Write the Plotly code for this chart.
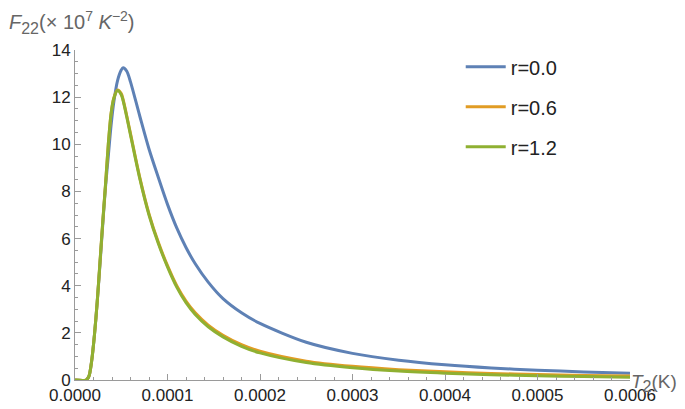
import plotly.graph_objects as go

# Temperature T2 (K)
T = [0, 1.2e-5, 1.5e-5, 1.8e-5, 2.1e-5, 2.4e-5, 2.7e-5, 3.0e-5, 3.3e-5, 3.6e-5,
     3.9e-5, 4.2e-5, 4.6e-5, 5.0e-5, 5.2e-5, 5.6e-5, 6.0e-5, 7.0e-5, 8.0e-5,
     9.0e-5, 1.0e-4, 1.1e-4, 1.2e-4, 1.3e-4, 1.44e-4, 1.6e-4, 1.8e-4, 2.0e-4,
     2.5e-4, 3.0e-4, 3.5e-4, 4.0e-4, 4.5e-4, 5.0e-4, 5.5e-4, 6.0e-4]

# F22 (x 1e7 K^-2)
F_r00 = [0, 0, 0.15, 0.8, 1.9, 3.3, 4.9, 6.6, 8.2, 9.5,
         10.8, 11.8, 12.7, 13.15, 13.25, 13.1, 12.65, 11.2, 9.8,
         8.6, 7.45, 6.45, 5.62, 4.93, 4.15, 3.45, 2.85, 2.4,
         1.6, 1.13, 0.84, 0.645, 0.51, 0.415, 0.343, 0.285]

F_r06 = [0, 0, 0.15, 0.8, 1.9, 3.3, 5.0, 6.7, 8.3, 10.0,
         11.3, 11.97, 12.3, 12.15, 11.9, 11.2, 10.45, 8.6, 7.05,
         5.85, 4.85, 4.0, 3.35, 2.85, 2.33, 1.9, 1.5, 1.22,
         0.8, 0.58, 0.44, 0.345, 0.28, 0.23, 0.195, 0.17]

F_r12 = [0, 0, 0.15, 0.8, 1.9, 3.3, 5.0, 6.7, 8.3, 10.0,
         11.3, 11.95, 12.28, 12.1, 11.85, 11.15, 10.4, 8.55, 7.0,
         5.8, 4.8, 3.94, 3.28, 2.78, 2.26, 1.83, 1.43, 1.15,
         0.74, 0.52, 0.38, 0.29, 0.225, 0.18, 0.145, 0.12]

names = ["r=0.0", "r=0.6", "r=1.2"]
colors = ["#5E81B5", "#E19C24", "#8FB032"]
series = [F_r00, F_r06, F_r12]

fig = go.Figure()
for nm, col, ys in zip(names, colors, series):
    fig.add_trace(go.Scatter(
        x=T, y=ys, mode="lines", name=nm, legendgroup=nm,
        line=dict(color=col, width=3, shape="spline", smoothing=0.8),
    ))

axis_col = "#9a9a9a"
fig.update_layout(
    width=685, height=409,
    margin=dict(l=67, r=63, t=42, b=26),
    paper_bgcolor="white", plot_bgcolor="white",
    font=dict(family="Liberation Sans, Arial, sans-serif", size=17, color="#222"),
    showlegend=True,
    legend=dict(x=0.695, y=1.008, xanchor="left", yanchor="top",
                font=dict(size=20, color="#222"), tracegroupgap=11,
                bgcolor="rgba(0,0,0,0)", itemwidth=40),
    xaxis=dict(range=[0, 0.0006], showgrid=False, zeroline=False,
               showline=True, linecolor=axis_col, linewidth=1,
               ticks="inside", ticklen=6, tickcolor=axis_col,
               tick0=0, dtick=0.0001, tickformat=".4f",
               minor=dict(dtick=0.00002, ticks="inside", ticklen=3, tickcolor=axis_col),
               tickfont=dict(size=17, color="#222")),
    yaxis=dict(range=[0, 14], showgrid=False, zeroline=False,
               showline=True, linecolor=axis_col, linewidth=1,
               ticks="inside", ticklen=6, tickcolor=axis_col,
               tick0=0, dtick=2,
               minor=dict(dtick=0.5, ticks="inside", ticklen=3, tickcolor=axis_col),
               tickfont=dict(size=17, color="#222")),
    annotations=[
        dict(text="<i>F</i><sub><span style='font-size:16px'>22</span></sub>(× 10<sup>7</sup> <i>K</i><sup>−2</sup>)",
             xref="paper", yref="paper", x=-0.122, y=1.083,
             xanchor="left", yanchor="middle", showarrow=False,
             font=dict(size=20, color="#666")),
        dict(text="<i>T</i><sub><span style='font-size:16px'>2</span></sub>(K)",
             xref="paper", yref="paper", x=0.998, y=-0.01,
             xanchor="left", yanchor="middle", showarrow=False,
             font=dict(size=19, color="#666")),
    ],
)

fig.write_html("out.html")
